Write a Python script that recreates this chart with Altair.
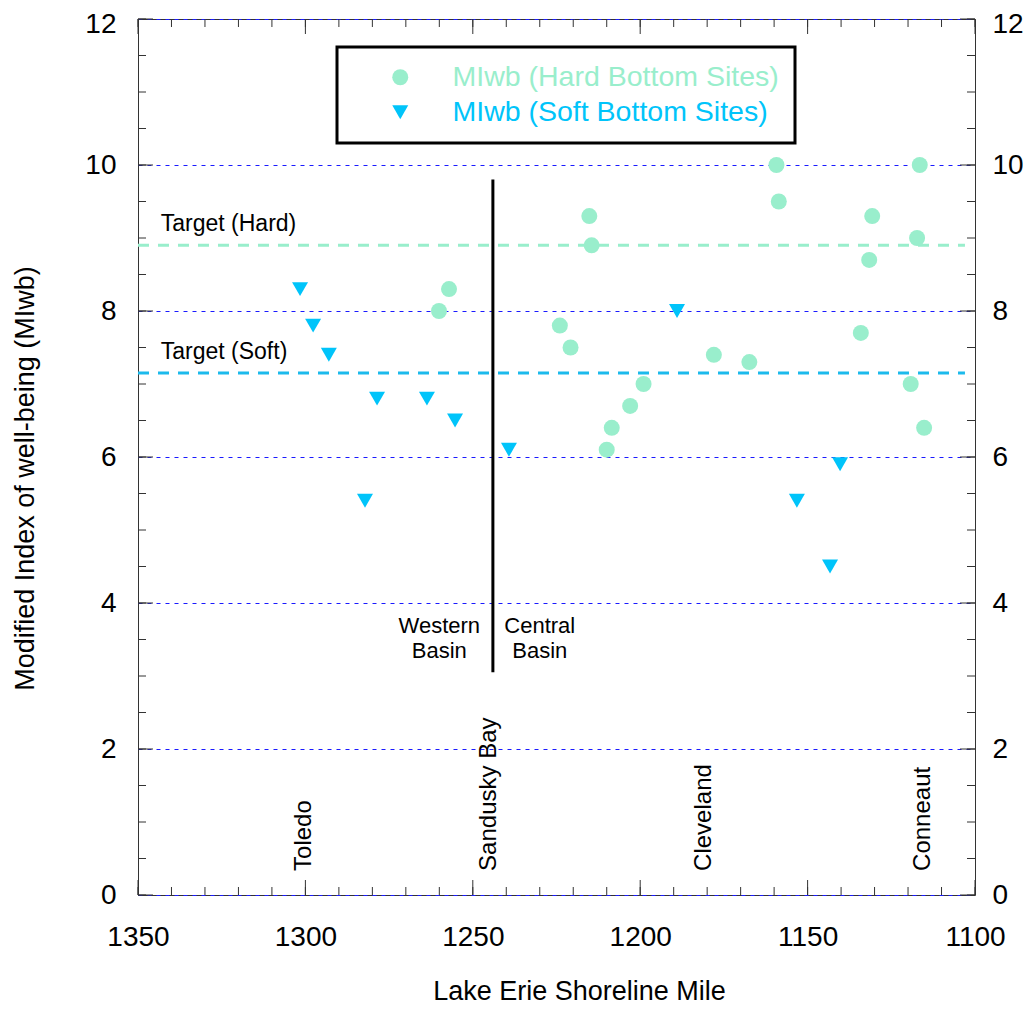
import altair as alt
import pandas as pd

# ---------------- data ----------------
hard_miles = [1260.1, 1257.1, 1224.0, 1220.8, 1215.2, 1214.5, 1210.0, 1208.5, 1203.0, 1199.0,
              1178.0, 1167.4, 1159.3, 1158.6, 1134.1, 1131.6, 1130.7, 1119.2, 1117.3, 1116.5, 1115.2]
hard_values = [8.0, 8.3, 7.8, 7.5, 9.3, 8.9, 6.1, 6.4, 6.7, 7.0,
               7.4, 7.3, 10.0, 9.5, 7.7, 8.7, 9.3, 7.0, 9.0, 10.0, 6.4]
soft_miles = [1301.6, 1297.7, 1293.0, 1282.2, 1278.6, 1263.7, 1255.3, 1239.2, 1189.0, 1153.2, 1143.3, 1140.3]
soft_values = [8.3, 7.8, 7.4, 5.4, 6.8, 6.8, 6.5, 6.1, 8.0, 5.4, 4.5, 5.9]

series_names = ["MIwb (Hard Bottom Sites)", "MIwb (Soft Bottom Sites)"]
series_colors = ["#99EECC", "#00C4FA"]
series_shapes = ["circle", "triangle-down"]

target_names = ["Target (Hard)", "Target (Soft)"]
target_values = [8.9, 7.15]
target_colors = ["#99EECC", "#1CBAEC"]
target_x_range = [1350, 1103]
target_label_miles = [1343.2, 1343.2]
target_label_values = [9.09, 7.34]

divider_mile = [1244]
divider_from = [3.05]
divider_to = [9.8]

basin_labels = ["Western\nBasin", "Central\nBasin"]
basin_miles = [1260, 1230]
basin_values = [3.68, 3.68]

city_names = ["Toledo", "Sandusky Bay", "Cleveland", "Conneaut"]
city_miles = [1300.4, 1245.3, 1181.0, 1115.5]
city_values = [0.33, 0.33, 0.33, 0.33]

x_major = [1350, 1300, 1250, 1200, 1150, 1100]
x_minor = list(range(1100, 1351, 10))
y_major = [0, 2, 4, 6, 8, 10, 12]
y_minor = [i * 0.5 for i in range(25)]

# ---------------- styling ----------------
W, H = 837, 876
FONT = "Liberation Sans"
TICK = "#333333"
GRID = "#1A1AFF"
MAJOR, MINOR = 15, 8
TOP_LABEL_NUDGE = {"condition": {"test": "datum.value == 12", "value": 5}, "value": 0}

xs = alt.Scale(domain=[1350, 1100], nice=False, zero=False)
ys = alt.Scale(domain=[0, 12], nice=False, zero=False)

x_axis = alt.Axis(orient="bottom", values=x_major, format="d", grid=False, ticks=False, tickSize=0, domain=False,
                  labelFont=FONT, labelFontSize=28, labelColor="black", labelPadding=28, labelFlush=False,
                  labelOverlap=False,
                  title="Lake Erie Shoreline Mile", titleFont=FONT, titleFontSize=27, titleFontWeight="normal",
                  titleColor="black", titleX=441, titleY=104, titleBaseline="alphabetic", titleAlign="center")
y_left = alt.Axis(orient="left", values=y_major, format="d", grid=True, gridColor=GRID, gridDash=[4, 5],
                  gridWidth=1, ticks=False, tickSize=0, domain=False, labelFont=FONT, labelFontSize=28,
                  labelColor="black", labelPadding=22, labelFlush=False, labelOffset=TOP_LABEL_NUDGE,
                  title="Modified Index of well-being (MIwb)", titleFont=FONT, titleFontSize=27,
                  titleFontWeight="normal", titleColor="black", titleAngle=270, titleX=-105, titleY=459,
                  titleBaseline="alphabetic", titleAlign="center")
y_right = alt.Axis(orient="right", values=y_major, format="d", grid=False, ticks=False, tickSize=0, domain=False,
                   labelFont=FONT, labelFontSize=28, labelColor="black", labelPadding=17, labelFlush=False,
                   labelOffset=TOP_LABEL_NUDGE, title=None)

pts = pd.DataFrame({
    "mile": hard_miles + soft_miles,
    "value": hard_values + soft_values,
    "series": [series_names[0]] * len(hard_miles) + [series_names[1]] * len(soft_miles),
})

legend = alt.Legend(
    title=None, orient="none", legendX=199, legendY=28,
    labelFont=FONT, labelFontSize=28.5, labelLimit=0,
    labelColor=alt.ExprRef(expr=f"indexof(datum.label, 'Hard') >= 0 ? '{series_colors[0]}' : '{series_colors[1]}'"),
    symbolSize=256, symbolStrokeWidth=0, symbolOffset=33, labelOffset=38,
    padding=16, rowPadding=6, strokeColor="black", fillColor="white",
)

points = alt.Chart(pts).mark_point(filled=True, size=256, opacity=1).encode(
    x=alt.X("mile:Q", scale=xs, axis=x_axis),
    y=alt.Y("value:Q", scale=ys, axis=None),
    color=alt.Color("series:N", scale=alt.Scale(domain=series_names, range=series_colors), legend=legend),
    shape=alt.Shape("series:N", scale=alt.Scale(domain=series_names, range=series_shapes), legend=legend),
)

tg = pd.DataFrame({
    "name": target_names, "value": target_values, "color": target_colors,
    "x1": [target_x_range[0]] * 2, "x2": [target_x_range[1]] * 2,
    "lx": target_label_miles, "ly": target_label_values,
})
targets = alt.Chart(tg).mark_rule(strokeWidth=3, strokeDash=[11, 9]).encode(
    x=alt.X("x1:Q", scale=xs, axis=None), x2="x2:Q",
    y=alt.Y("value:Q", scale=ys, axis=None),
    color=alt.Color("color:N", scale=None),
)
target_text = alt.Chart(tg).mark_text(align="left", baseline="alphabetic", font=FONT, fontSize=23, color="black").encode(
    x=alt.X("lx:Q", scale=xs, axis=None), y=alt.Y("ly:Q", scale=ys, axis=None), text="name:N")

dv = pd.DataFrame({"mile": divider_mile, "y1": divider_from, "y2": divider_to})
divider = alt.Chart(dv).mark_rule(strokeWidth=3, color="black").encode(
    x=alt.X("mile:Q", scale=xs, axis=None), y=alt.Y("y1:Q", scale=ys, axis=None), y2="y2:Q")

bs = pd.DataFrame({"label": basin_labels, "mile": basin_miles, "value": basin_values})
basins = alt.Chart(bs).mark_text(align="center", baseline="middle", lineBreak="\n", lineHeight=25,
                                 font=FONT, fontSize=22, color="black").encode(
    x=alt.X("mile:Q", scale=xs, axis=None), y=alt.Y("value:Q", scale=ys, axis=None), text="label:N")

ct = pd.DataFrame({"name": city_names, "mile": city_miles, "value": city_values})
cities = alt.Chart(ct).mark_text(angle=270, align="left", baseline="middle", font=FONT, fontSize=24, color="black").encode(
    x=alt.X("mile:Q", scale=xs, axis=None), y=alt.Y("value:Q", scale=ys, axis=None), text="name:N")


def xticks(values, length, side):
    df = pd.DataFrame({"t": values})
    if side == "bottom":
        yy, yy2 = alt.value(H), alt.value(H - length)
    else:
        yy, yy2 = alt.value(0), alt.value(length)
    return alt.Chart(df).mark_rule(color=TICK, strokeWidth=1).encode(
        x=alt.X("t:Q", scale=xs, axis=None), y=yy, y2=yy2)


def yticks(values, length, side, axis=None):
    df = pd.DataFrame({"t": values})
    if side == "left":
        xx, xx2 = alt.value(0), alt.value(length)
    else:
        xx, xx2 = alt.value(W), alt.value(W - length)
    return alt.Chart(df).mark_rule(color=TICK, strokeWidth=1).encode(
        y=alt.Y("t:Q", scale=ys, axis=axis), x=xx, x2=xx2)


ticks = [
    xticks(x_minor, MINOR, "bottom"), xticks(x_major, MAJOR, "bottom"),
    xticks(x_minor, MINOR, "top"), xticks(x_major, MAJOR, "top"),
    yticks(y_minor, MINOR, "left"), yticks(y_major, MAJOR, "left", y_left),
    yticks(y_minor, MINOR, "right"), yticks(y_major, MAJOR, "right", y_right),
]

chart = alt.layer(
    targets, divider, points, target_text, basins, cities, *ticks
).properties(
    width=W, height=H,
    autosize=alt.AutoSizeParams(type="none"),
    padding={"left": 130, "top": 11, "right": 48, "bottom": 110},
).resolve_axis(y="independent", x="independent").configure(font=FONT).configure_view(
    stroke=TICK, strokeWidth=1).configure_legend(strokeWidth=3)

chart.save("out.html", embed_options={"renderer": "svg", "actions": False})
